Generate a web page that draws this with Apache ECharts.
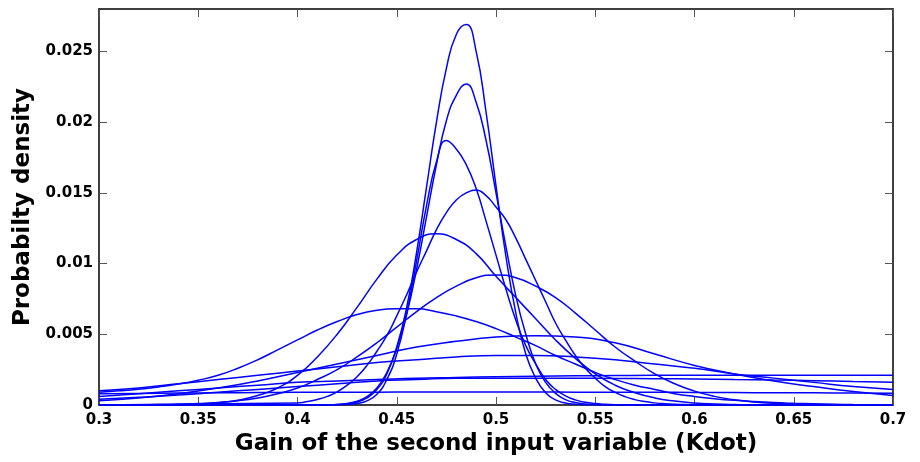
<!DOCTYPE html>
<html>
<head>
<meta charset="utf-8">
<script src="https://cdn.jsdelivr.net/npm/echarts@6/dist/echarts.min.js"></script>
<style>
    html, body { margin: 0; padding: 0; background: #fff; }
    #main { width: 920px; height: 462px; }
</style>
</head>
<body>
<div id="main"></div>
<script>
// x grids: fine one for the sharp peaks, 0.01 and 0.02 steps for the rest
const kdotNarrow = [0.30,
    0.400, 0.405, 0.410, 0.415, 0.420, 0.425, 0.430, 0.435, 0.440, 0.445,
    0.450, 0.455, 0.460, 0.465, 0.470, 0.475, 0.480, 0.485, 0.490, 0.495,
    0.500, 0.505, 0.510, 0.515, 0.520, 0.525, 0.530, 0.535, 0.540, 0.545,
    0.550, 0.555, 0.560, 0.565, 0.570, 0.575, 0.580, 0.585, 0.590, 0.595,
    0.600, 0.70];
const kdot = [0.30, 0.31, 0.32, 0.33, 0.34, 0.35, 0.36, 0.37, 0.38, 0.39,
    0.40, 0.41, 0.42, 0.43, 0.44, 0.45, 0.46, 0.47, 0.48, 0.49,
    0.50, 0.51, 0.52, 0.53, 0.54, 0.55, 0.56, 0.57, 0.58, 0.59,
    0.60, 0.61, 0.62, 0.63, 0.64, 0.65, 0.66, 0.67, 0.68, 0.69, 0.70];
const kdotCoarse = [0.30, 0.32, 0.34, 0.36, 0.38, 0.40, 0.42, 0.44, 0.46, 0.48,
    0.50, 0.52, 0.54, 0.56, 0.58, 0.60, 0.62, 0.64, 0.66, 0.68, 0.70];

// densities
const curveA = [0,
    0, 0, 0, 0.00001, 0.00003, 0.00008, 0.00021, 0.0005, 0.0011, 0.0022,
    0.0041, 0.0069, 0.0108, 0.0154, 0.0200, 0.0238, 0.0262, 0.0269, 0.0250, 0.0207,
    0.0155, 0.0105, 0.0065, 0.0036, 0.0019, 0.00086, 0.00036, 0.00014, 0.00005, 0.00002,
    0.00001, 0, 0, 0, 0, 0, 0, 0, 0, 0,
    0, 0];
const curveB = [0,
    0, 0, 0.00001, 0.00002, 0.00004, 0.00011, 0.00027, 0.00059, 0.0012, 0.0023,
    0.0040, 0.0064, 0.0096, 0.0133, 0.0170, 0.0201, 0.0219, 0.0227, 0.0214, 0.0187,
    0.0150, 0.0112, 0.0077, 0.0050, 0.0029, 0.0016, 0.00082, 0.00038, 0.00017, 0.00007,
    0.00003, 0.00001, 0, 0, 0, 0, 0, 0, 0, 0,
    0, 0];
const curveC = [0,
    0, 0, 0, 0, 0.00001, 0.00003, 0.0001, 0.00029, 0.00076, 0.0018,
    0.0036, 0.0065, 0.0102, 0.0141, 0.0172, 0.0187, 0.0181, 0.0170, 0.0153, 0.0130,
    0.0106, 0.0082, 0.0060, 0.0042, 0.0029, 0.0018, 0.0011, 0.00065, 0.00036, 0.00019,
    0.0001, 0.00005, 0.00002, 0.00001, 0, 0, 0, 0, 0, 0,
    0, 0];
const curveD = [0,
    0.00014, 0.00024, 0.00039, 0.00061, 0.00093, 0.0014, 0.0020, 0.0028, 0.0038, 0.0049,
    0.0063, 0.0078, 0.0094, 0.0109, 0.0124, 0.0136, 0.0145, 0.0150, 0.0152, 0.0148,
    0.0140, 0.0131, 0.0118, 0.0103, 0.0088, 0.0073, 0.0058, 0.0046, 0.0035, 0.0026,
    0.0019, 0.0013, 0.00089, 0.00059, 0.00038, 0.00024, 0.00015, 0.00009, 0.00005, 0.00003,
    0.00001, 0];

const curveE = [0, 0, 0,
    0.00001, 0.00003, 0.00007, 0.00016, 0.00034, 0.00067, 0.0012, 0.0021, 0.0034, 0.0050, 0.0069, 0.0089,
    0.0106, 0.0117, 0.0121, 0.0117, 0.0107, 0.0091, 0.0076, 0.0061, 0.0046, 0.0033, 0.0022, 0.0014,
    0.00087, 0.0005, 0.00028, 0.00014, 0.00007, 0.00003, 0.00001,
    0, 0, 0, 0, 0, 0, 0];
const curveF = [0, 0,
    0.00001, 0.00003, 0.00005, 0.0001, 0.00018, 0.0003, 0.0005, 0.00079, 0.0012, 0.0018, 0.0025, 0.0034,
    0.0044, 0.0055, 0.0066, 0.0076, 0.0084, 0.0090, 0.0092, 0.0090, 0.0084, 0.0076, 0.0065, 0.0053,
    0.0041, 0.0031, 0.0022, 0.0015, 0.00098, 0.00061, 0.00037, 0.00021, 0.00011, 0.00006, 0.00003, 0.00001,
    0, 0, 0];
const curveG = [0.0009, 0.0010, 0.00112, 0.00128, 0.00148, 0.00175, 0.0021, 0.0026, 0.0032, 0.0039,
    0.0046, 0.0053, 0.0059, 0.0064, 0.0067, 0.0068, 0.0068, 0.0066, 0.0063, 0.0059,
    0.0054, 0.0048, 0.0042, 0.0035, 0.0029, 0.0023, 0.0018, 0.0014, 0.0011, 0.0008,
    0.0006, 0.00045, 0.00033, 0.00024, 0.00017, 0.00012, 0.00008, 0.00005, 0.00003, 0.00002, 0.00001];

const curveH = [0.0003, 0.0005, 0.0008, 0.0012, 0.0017, 0.0023, 0.0029, 0.0035, 0.0041, 0.0045,
    0.0048, 0.0049, 0.0048, 0.0044, 0.0036, 0.0028, 0.0022, 0.0017, 0.0013, 0.00095, 0.00068];
const curveI = [0.0010, 0.0012, 0.0015, 0.0018, 0.0021, 0.0024, 0.0027, 0.0030, 0.0032, 0.0034,
    0.0035, 0.0035, 0.0034, 0.0032, 0.0029, 0.0026, 0.0022, 0.0019, 0.0016, 0.0013, 0.0011];
const curveJ = [0.0006, 0.0008, 0.0010, 0.0012, 0.0014, 0.0016, 0.0017, 0.0018, 0.0019, 0.00195,
    0.0020, 0.00203, 0.00206, 0.00208, 0.0021, 0.0021, 0.0021, 0.0021, 0.0021, 0.0021, 0.0021];
const curveK = [0.0004, 0.00055, 0.0007, 0.0009, 0.0011, 0.0013, 0.0015, 0.0017, 0.0018, 0.0019,
    0.0019, 0.0019, 0.0019, 0.00188, 0.00186, 0.00184, 0.0018, 0.00176, 0.00172, 0.00166, 0.0016];
const curveL = [0.0008, 0.00082, 0.00084, 0.00086, 0.00088, 0.0009, 0.0009, 0.00091, 0.00092, 0.00092,
    0.00092, 0.00092, 0.00091, 0.0009, 0.0009, 0.00089, 0.00088, 0.00087, 0.00086, 0.00085, 0.00083];

const narrowCurves = [curveA, curveB, curveC, curveD];
const midCurves = [curveE, curveF, curveG];
const broadCurves = [curveH, curveI, curveJ, curveK, curveL];

const fontBold = {
    fontFamily: 'DejaVu Sans',
    fontWeight: 'bold',
    color: '#000'
};

function pairs(xs, ys) {
    return xs.map((x, i) => [x, ys[i]]);
}

function makeLine(data) {
    return {
        type: 'line',
        data: data,
        smooth: 0.5,
        symbol: 'none',
        silent: true,
        lineStyle: { color: '#0000ff', width: 1.5 }
    };
}

let series = [];
narrowCurves.forEach(c => series.push(makeLine(pairs(kdotNarrow, c))));
midCurves.forEach(c => series.push(makeLine(pairs(kdot, c))));
broadCurves.forEach(c => series.push(makeLine(pairs(kdotCoarse, c))));

function xAxisAt(pos, showLabels) {
    return {
        type: 'value',
        position: pos,
        min: 0.3,
        max: 0.7,
        interval: 0.05,
        axisLine: { show: true, onZero: false, lineStyle: { color: '#000', width: 1.5 } },
        axisTick: { show: true, inside: true, length: 8, lineStyle: { color: '#555', width: 1 } },
        axisLabel: Object.assign({ show: showLabels, fontSize: 15, margin: 8 }, fontBold),
        splitLine: { show: false }
    };
}

function yAxisAt(pos, showLabels) {
    return {
        type: 'value',
        position: pos,
        min: 0,
        max: 0.028,
        interval: 0.005,
        axisLine: { show: true, onZero: false, lineStyle: { color: '#000', width: 1.5 } },
        axisTick: { show: true, inside: true, length: 8, lineStyle: { color: '#555', width: 1 } },
        axisLabel: Object.assign({ show: showLabels, fontSize: 15, margin: 6, showMaxLabel: false }, fontBold),
        splitLine: { show: false }
    };
}

let bottomAxis = xAxisAt('bottom', true);
bottomAxis.name = 'Gain of the second input variable (Kdot)';
bottomAxis.nameLocation = 'middle';
bottomAxis.nameGap = 27;
bottomAxis.nameTextStyle = Object.assign({ fontSize: 23 }, fontBold);

let leftAxis = yAxisAt('left', true);
leftAxis.name = 'Probabilty density';
leftAxis.nameLocation = 'middle';
leftAxis.nameGap = 62;
leftAxis.nameTextStyle = Object.assign({ fontSize: 23 }, fontBold);

const option = {
    animation: false,
    backgroundColor: '#fff',
    grid: { left: 99, right: 27, top: 9, bottom: 57 },
    xAxis: [bottomAxis, xAxisAt('top', false)],
    yAxis: [leftAxis, yAxisAt('right', false)],
    series: series
};

let plot = echarts.init(document.querySelector('#main'));
plot.setOption(option);
</script>
</body>
</html>
